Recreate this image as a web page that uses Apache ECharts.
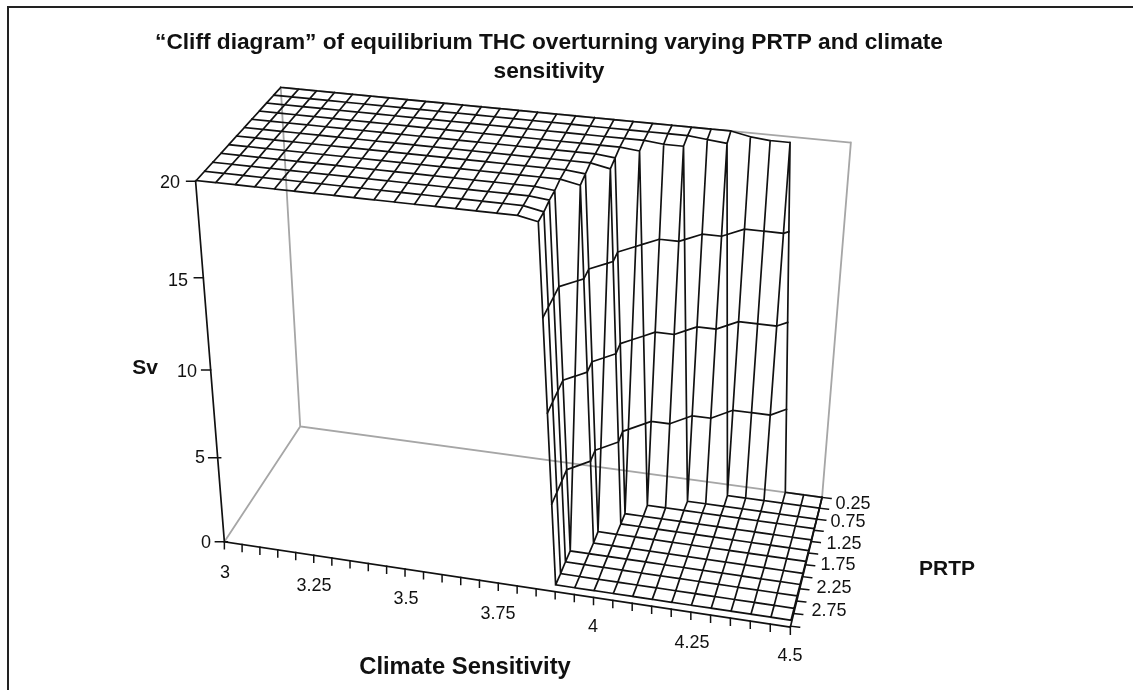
<!DOCTYPE html>
<html><head><meta charset="utf-8"><style>html,body{margin:0;padding:0;background:#fff}#c{width:1133px;height:690px}</style>
<script src="https://cdn.jsdelivr.net/npm/echarts@6/dist/echarts.min.js"></script></head><body><div id="c"></div>
<script>
const titleText = '\u201CCliff diagram\u201D of equilibrium THC overturning varying PRTP and climate\nsensitivity';
const climateSensitivity = [3,3.05,3.1,3.15,3.2,3.25,3.3,3.35,3.4,3.45,3.5,3.55,3.6,3.65,3.7,3.75,3.8,3.85,3.9,3.95,4,4.05,4.1,4.15,4.2,4.25,4.3,4.35,4.4,4.45,4.5];
const prtp = [0.25,0.5,0.75,1,1.25,1.5,1.75,2,2.25,2.5,2.75,3];
const svTicks = [0,5,10,15,20];
const csLabels = [3,3.25,3.5,3.75,4,4.25,4.5];
const prtpLabels = [0.25,0.75,1.25,1.75,2.25,2.75];
// Overturning (Sv): one row per PRTP, one value per climate sensitivity
const r00 = [20,20,20,20,20,20,20,20,20,20,20,20,20,20,20,20,20,20,20,20,20,20,20,20,20,19.8,19.7,19.7,0,0,0];
const r01 = [20,20,20,20,20,20,20,20,20,20,20,20,20,20,20,20,20,20,20,20,20,20,20,19.9,19.8,0,0,0,0,0,0];
const r02 = [20,20,20,20,20,20,20,20,20,20,20,20,20,20,20,20,20,20,20,20,20,19.9,19.9,0,0,0,0,0,0,0,0];
const r03 = [20,20,20,20,20,20,20,20,20,20,20,20,20,20,20,20,20,20,20,20,19.9,0.1,0.1,0.1,0.1,0.1,0.1,0.1,0.1,0.1,0.1];
const r04 = [20,20,20,20,20,20,20,20,20,20,20,20,20,20,20,20,20,20,20,19.9,0.1,0.1,0.1,0.1,0.1,0.1,0.1,0.1,0.1,0.1,0.1];
const r05 = [20,20,20,20,20,20,20,20,20,20,20,20,20,20,20,20,20,20,20,19.8,0.15,0.15,0.15,0.15,0.15,0.15,0.15,0.15,0.15,0.15,0.15];
const r06 = [20,20,20,20,20,20,20,20,20,20,20,20,20,20,20,20,20,20,19.9,0.2,0.2,0.2,0.2,0.2,0.2,0.2,0.2,0.2,0.2,0.2,0.2];
const r07 = [20,20,20,20,20,20,20,20,20,20,20,20,20,20,20,20,20,20,19.8,0.2,0.2,0.2,0.2,0.2,0.2,0.2,0.2,0.2,0.2,0.2,0.2];
const r08 = [20,20,20,20,20,20,20,20,20,20,20,20,20,20,20,20,20,19.9,0.25,0.25,0.25,0.25,0.25,0.25,0.25,0.25,0.25,0.25,0.25,0.25,0.25];
const r09 = [20,20,20,20,20,20,20,20,20,20,20,20,20,20,20,20,20,19.9,0.3,0.3,0.3,0.3,0.3,0.3,0.3,0.3,0.3,0.3,0.3,0.3,0.3];
const r10 = [20,20,20,20,20,20,20,20,20,20,20,20,20,20,20,20,20,19.8,0.3,0.3,0.3,0.3,0.3,0.3,0.3,0.3,0.3,0.3,0.3,0.3,0.3];
const r11 = [20,20,20,20,20,20,20,20,20,20,20,20,20,20,20,20,20,19.8,0.35,0.35,0.35,0.35,0.35,0.35,0.35,0.35,0.35,0.35,0.35,0.35,0.35];
const surface = [r00,r01,r02,r03,r04,r05,r06,r07,r08,r09,r10,r11];

// Camera: a 3D box (sensitivity, PRTP, Sv) seen through a projective camera, calibrated on the box corners.
const csMin=3, csMax=4.5, pMin=0.25, pMax=3, pFront=3.02, zMax=20;
const calibration = [
 [0,0,0, 300,425],[1,0,0, 822,497],[1,1,0, 790,628],[0,1,0, 225,543],
 [0,0,1, 280,87],[1,0,1, 852,145],[0,1,1, 196,182],[1,1,1, 818,246]
];
function fitCamera(pts){
  const n=11, A=Array.from({length:n},()=>new Array(n+1).fill(0));
  const add=(r,b)=>{for(let i=0;i<n;i++){for(let j=0;j<n;j++)A[i][j]+=r[i]*r[j];A[i][n]+=r[i]*b;}};
  pts.forEach(([x,y,z,u,v])=>{
    add([x,y,z,1,0,0,0,0,-u*x,-u*y,-u*z],u);
    add([0,0,0,0,x,y,z,1,-v*x,-v*y,-v*z],v);
  });
  for(let i=0;i<n;i++){
    let p=i;for(let k=i+1;k<n;k++)if(Math.abs(A[k][i])>Math.abs(A[p][i]))p=k;
    [A[i],A[p]]=[A[p],A[i]];
    for(let k=0;k<n;k++){if(k===i)continue;const f=A[k][i]/A[i][i];for(let j=i;j<=n;j++)A[k][j]-=f*A[i][j];}
  }
  return A.map((row,i)=>row[n]/row[i]);
}
const m=fitCamera(calibration);
function project(cs,p,sv){
  const x=(cs-csMin)/(csMax-csMin), y=(p-pMin)/(pFront-pMin), z=sv/zMax;
  const w=m[8]*x+m[9]*y+m[10]*z+1;
  return [(m[0]*x+m[1]*y+m[2]*z+m[3])/w,(m[4]*x+m[5]*y+m[6]*z+m[7])/w];
}

const mesh=[], contours=[], wall=[], axes=[], ticks=[], frame=[];
const seg=(arr,a,b)=>{arr.push(a,b,[null,null]);};
surface.forEach((row,j)=>{row.forEach((z,i)=>{
  const a=project(climateSensitivity[i],prtp[j],z);
  if(i+1<row.length)seg(mesh,a,project(climateSensitivity[i+1],prtp[j],row[i+1]));
  if(j+1<surface.length)seg(mesh,a,project(climateSensitivity[i],prtp[j+1],surface[j+1][i]));
});});
// band boundaries of the wireframe surface
[5,10,15].forEach(level=>{
  for(let j=0;j+1<surface.length;j++)for(let i=0;i+1<climateSensitivity.length;i++){
    const c=[[i,j],[i+1,j],[i+1,j+1],[i,j+1]],hits=[];
    for(let k=0;k<4;k++){
      const [i1,j1]=c[k],[i2,j2]=c[(k+1)%4],z1=surface[j1][i1],z2=surface[j2][i2];
      if((z1-level)*(z2-level)<0){const t=(level-z1)/(z2-z1);
        hits.push(project(climateSensitivity[i1]+t*(climateSensitivity[i2]-climateSensitivity[i1]),prtp[j1]+t*(prtp[j2]-prtp[j1]),level));}
    }
    if(hits.length===2)seg(contours,hits[0],hits[1]);
  }
});
// back walls and floor (grey), front axes (black)
const P=(x,y,z)=>project(x,y,z);
seg(wall,P(csMin,pMin,zMax),P(csMax,pMin,zMax));seg(wall,P(csMax,pMin,zMax),P(csMax,pMin,0));
seg(wall,P(csMin,pMin,0),P(csMax,pMin,0));seg(wall,P(csMin,pMin,0),P(csMin,pMin,zMax));seg(wall,P(csMin,pMin,0),P(csMin,pFront,0));
seg(axes,P(csMin,pFront,0),P(csMin,pFront,zMax));seg(axes,P(csMin,pFront,0),P(csMax,pFront,0));seg(axes,P(csMax,pFront,0),P(csMax,pMin,0));
climateSensitivity.forEach(cs=>{const a=P(cs,pFront,0);seg(ticks,a,[a[0],a[1]+7]);});
prtp.forEach(p=>{const a=P(csMax,p,0);seg(ticks,a,[a[0]+9,a[1]+1]);});
svTicks.forEach(s=>{const a=P(csMin,pFront,s);seg(ticks,[a[0]-9,a[1]],[a[0]+(s===0||s===5?3:0),a[1]]);});
seg(frame,[8,7],[1133,7]);seg(frame,[8,7],[8,690]);

const lineStyle=(color,width)=>({type:'line',coordinateSystem:'cartesian2d',showSymbol:false,symbol:'none',silent:true,connectNulls:false,animation:false,lineStyle:{color,width,cap:'square'}});
const label=(text,x,y,size,weight,align)=>({type:'text',x,y,silent:true,style:{text,x:0,y:0,font:`${weight||'normal'} ${size}px "Liberation Sans"`,fill:'#111',textAlign:align||'center',textVerticalAlign:'middle'}});
const texts=[];
const zPos=[[206,543],[200,458],[187,372],[178,281],[170,183]];
svTicks.forEach((s,i)=>texts.push(label(String(s),zPos[i][0],zPos[i][1],18)));
const csPos=[[225,573],[314,586],[406,599],[498,614],[593,627],[692,643],[790,656]];
csLabels.forEach((s,i)=>texts.push(label(String(s),csPos[i][0],csPos[i][1],18)));
const pPos=[[853,504],[848,522],[844,544],[838,565],[834,588],[829,611]];
prtpLabels.forEach((s,i)=>texts.push(label(String(s),pPos[i][0],pPos[i][1],18)));
texts.push(label('Climate Sensitivity',465,667,23.8,'bold'));
texts.push(label('PRTP',947,569,21,'bold'));
texts.push(label('Sv',145,368,21,'bold'));
titleText.split('\n').forEach((t,i)=>texts.push(label(t,549,43+i*29,22.7,'bold')));

const chart=echarts.init(document.getElementById('c'),null,{renderer:'canvas'});
chart.setOption({animation:false,backgroundColor:'#fff',
 grid:{left:0,right:0,top:0,bottom:0},
 xAxis:{type:'value',min:0,max:1133,show:false},
 yAxis:{type:'value',min:0,max:690,inverse:true,show:false},
 graphic:{elements:texts},
 series:[
  {...lineStyle('#a6a6a6',1.8),name:'walls',data:wall},
  {...lineStyle('#111',1.7),name:'mesh',data:mesh},
  {...lineStyle('#111',1.7),name:'bands',data:contours},
  {...lineStyle('#111',1.7),name:'axes',data:axes},
  {...lineStyle('#111',1.5),name:'ticks',data:ticks},
  {...lineStyle('#222',2),name:'frame',data:frame}
 ]});
</script></body></html>
